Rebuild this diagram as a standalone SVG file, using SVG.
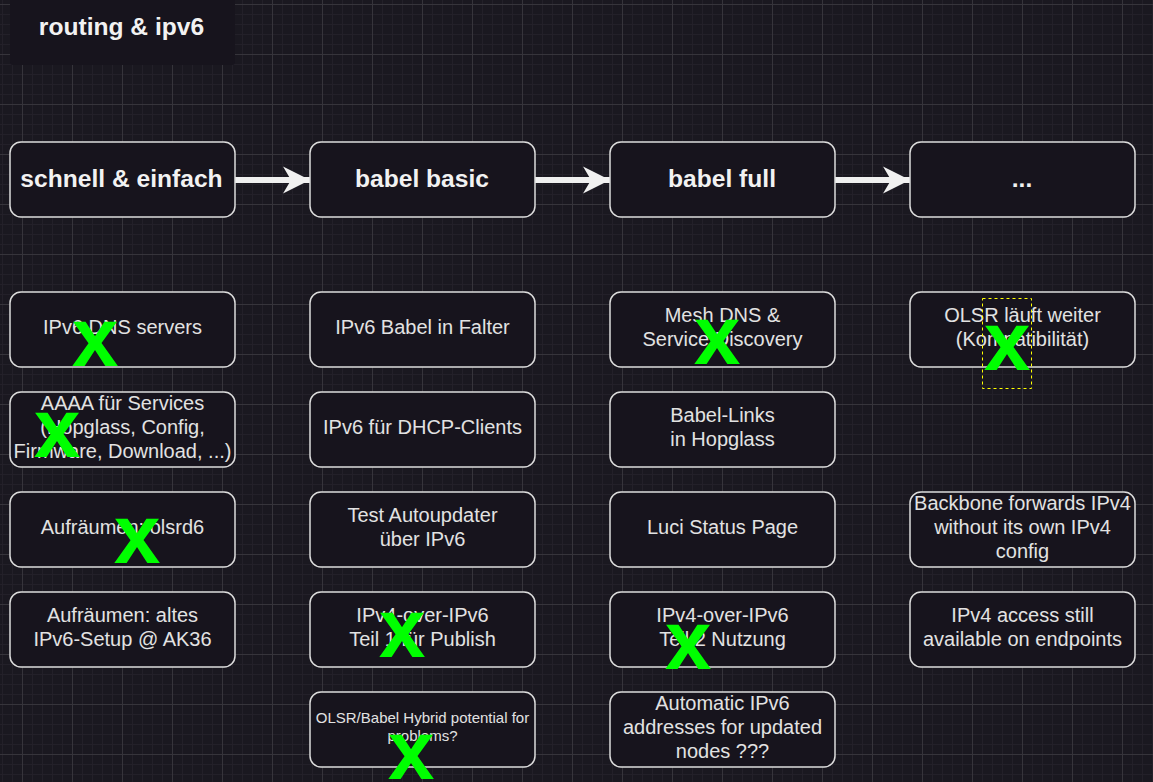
<svg xmlns="http://www.w3.org/2000/svg" width="1153" height="782" viewBox="0 0 1153 782">
<defs>
<pattern id="grid" patternUnits="userSpaceOnUse" x="22" y="4" width="50" height="50">
<rect width="50" height="50" fill="#1a1820"/>
<g fill="#232029">
<rect x="10" y="0" width="1" height="50"/><rect x="20" y="0" width="1" height="50"/><rect x="30" y="0" width="1" height="50"/><rect x="40" y="0" width="1" height="50"/>
<rect x="0" y="10" width="50" height="1"/><rect x="0" y="20" width="50" height="1"/><rect x="0" y="30" width="50" height="1"/><rect x="0" y="40" width="50" height="1"/>
</g>
<g fill="#36343b">
<rect x="0" y="0" width="1" height="50"/><rect x="0" y="0" width="50" height="1"/>
</g>
</pattern>
<marker id="arrow" markerUnits="userSpaceOnUse" viewBox="0 0 28 28" refX="27" refY="14" markerWidth="28" markerHeight="28" orient="auto">
<polygon points="27,14 0,0.5 8,14 0,27.5" fill="#f0f0f0"/>
</marker>
<style>
.node rect{fill:#17141d;stroke:#dcdcdc;stroke-width:1.5}
.hdr{font-family:"Liberation Sans",Arial,sans-serif;font-weight:bold;font-size:24.6px;fill:#f2f2f2;text-anchor:middle}
.txt{font-family:"Liberation Sans",Arial,sans-serif;font-size:20px;fill:#e2e2e2;text-anchor:middle}
.sm{font-size:15px}
.mark{font-family:"Liberation Sans",Arial,sans-serif;font-weight:bold;font-size:84px;fill:#00ff00;text-anchor:middle}
.conn{stroke:#f0f0f0;stroke-width:6;fill:none}
</style>
</defs>
<rect width="1153" height="782" fill="url(#grid)"/>

<g id="title">
<rect x="10" y="-10" width="225" height="75" rx="3" fill="#17141d"/>
<text class="hdr" x="121.5" y="35">routing &amp; ipv6</text>
</g>

<g id="connectors">
<path class="conn" d="M235,180 H310" marker-end="url(#arrow)"/>
<path class="conn" d="M535,180 H610" marker-end="url(#arrow)"/>
<path class="conn" d="M835,180 H910" marker-end="url(#arrow)"/>
</g>

<g id="h1" class="node"><rect x="10" y="142" width="225" height="75" rx="11"/><text class="hdr" x="121.5" y="187">schnell &amp; einfach</text></g>
<g id="h2" class="node"><rect x="310" y="142" width="225" height="75" rx="11"/><text class="hdr" x="422" y="187">babel basic</text></g>
<g id="h3" class="node"><rect x="610" y="142" width="225" height="75" rx="11"/><text class="hdr" x="722" y="187">babel full</text></g>
<g id="h4" class="node"><rect x="910" y="142" width="225" height="75" rx="11"/><text class="hdr" x="1022" y="187">...</text></g>

<g id="c1r1" class="node"><rect x="10" y="292" width="225" height="75" rx="11"/><text class="txt" x="122.5" y="334">IPv6 DNS servers</text></g>
<g id="c1r2" class="node"><rect x="10" y="392" width="225" height="75" rx="11"/><text class="txt" x="122.5"><tspan x="122.5" y="410">AAAA für Services</tspan><tspan x="122.5" y="434">(Hopglass, Config,</tspan><tspan x="122.5" y="458">Firmware, Download, ...)</tspan></text></g>
<g id="c1r3" class="node"><rect x="10" y="492" width="225" height="75" rx="11"/><text class="txt" x="122.5" y="534">Aufräumen: olsrd6</text></g>
<g id="c1r4" class="node"><rect x="10" y="592" width="225" height="75" rx="11"/><text class="txt"><tspan x="122.5" y="622">Aufräumen: altes</tspan><tspan x="122.5" y="646">IPv6-Setup @ AK36</tspan></text></g>

<g id="c2r1" class="node"><rect x="310" y="292" width="225" height="75" rx="11"/><text class="txt" x="422.5" y="334">IPv6 Babel in Falter</text></g>
<g id="c2r2" class="node"><rect x="310" y="392" width="225" height="75" rx="11"/><text class="txt" x="422.5" y="434">IPv6 für DHCP-Clients</text></g>
<g id="c2r3" class="node"><rect x="310" y="492" width="225" height="75" rx="11"/><text class="txt"><tspan x="422.5" y="522">Test Autoupdater</tspan><tspan x="422.5" y="546">über IPv6</tspan></text></g>
<g id="c2r4" class="node"><rect x="310" y="592" width="225" height="75" rx="11"/><text class="txt"><tspan x="422.5" y="622">IPv4-over-IPv6</tspan><tspan x="422.5" y="646">Teil 1 für Publish</tspan></text></g>
<g id="c2r5" class="node"><rect x="310" y="692" width="225" height="75" rx="11"/><text class="txt sm"><tspan x="422.5" y="723">OLSR/Babel Hybrid potential for</tspan><tspan x="422.5" y="741">problems?</tspan></text></g>

<g id="c3r1" class="node"><rect x="610" y="292" width="225" height="75" rx="11"/><text class="txt"><tspan x="722.5" y="322">Mesh DNS &amp;</tspan><tspan x="722.5" y="346">Service Discovery</tspan></text></g>
<g id="c3r2" class="node"><rect x="610" y="392" width="225" height="75" rx="11"/><text class="txt"><tspan x="722.5" y="422">Babel-Links</tspan><tspan x="722.5" y="446">in Hopglass</tspan></text></g>
<g id="c3r3" class="node"><rect x="610" y="492" width="225" height="75" rx="11"/><text class="txt" x="722.5" y="534">Luci Status Page</text></g>
<g id="c3r4" class="node"><rect x="610" y="592" width="225" height="75" rx="11"/><text class="txt"><tspan x="722.5" y="622">IPv4-over-IPv6</tspan><tspan x="722.5" y="646">Teil 2 Nutzung</tspan></text></g>
<g id="c3r5" class="node"><rect x="610" y="692" width="225" height="75" rx="11"/><text class="txt"><tspan x="722.5" y="710">Automatic IPv6</tspan><tspan x="722.5" y="734">addresses for updated</tspan><tspan x="722.5" y="758">nodes ???</tspan></text></g>

<g id="c4r1" class="node"><rect x="910" y="292" width="225" height="75" rx="11"/><text class="txt"><tspan x="1022.5" y="322">OLSR läuft weiter</tspan><tspan x="1022.5" y="346">(Kompatibilität)</tspan></text></g>
<g id="c4r3" class="node"><rect x="910" y="492" width="225" height="75" rx="11"/><text class="txt"><tspan x="1022.5" y="510">Backbone forwards IPv4</tspan><tspan x="1022.5" y="534">without its own IPv4</tspan><tspan x="1022.5" y="558">config</tspan></text></g>
<g id="c4r4" class="node"><rect x="910" y="592" width="225" height="75" rx="11"/><text class="txt"><tspan x="1022.5" y="622">IPv4 access still</tspan><tspan x="1022.5" y="646">available on endpoints</tspan></text></g>

<g id="marks">
<text class="mark" x="95" y="366">x</text>
<text class="mark" x="57" y="457">x</text>
<text class="mark" x="137" y="563">x</text>
<text class="mark" x="402" y="657">x</text>
<text class="mark" x="411" y="779">x</text>
<text class="mark" x="717" y="364">x</text>
<text class="mark" x="688" y="669">x</text>
<g id="selected-mark">
<rect x="982.5" y="298.5" width="49" height="90" fill="none" stroke="#ffff00" stroke-width="1" stroke-dasharray="3,3"/>
<text class="mark" x="1007" y="370">x</text>
</g>
</g>
</svg>
